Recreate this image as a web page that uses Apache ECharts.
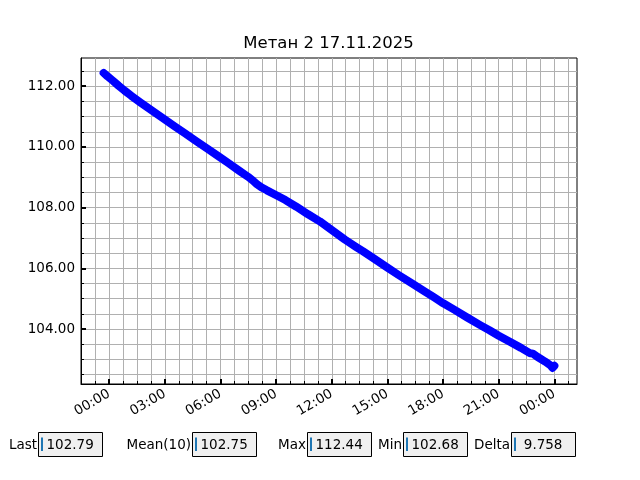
<!DOCTYPE html>
<html><head><meta charset="utf-8">
<script src="https://cdn.jsdelivr.net/npm/echarts@6/dist/echarts.min.js"></script>
<style>html,body{margin:0;padding:0;background:#fff}#c{width:640px;height:480px}</style>
</head><body><div id="c"></div>
<script>
const chartTitle = 'Метан 2 17.11.2025';
const hours = [-0.3, -0.1, 0.2, 0.5, 0.82, 1.2, 1.72, 2.3, 2.98, 3.5, 4.06, 4.7, 5.32, 5.9, 6.4, 7.0, 7.48, 7.75, 7.95, 8.2, 8.5, 9.01, 9.5, 10.09, 10.7, 11.35, 12.07, 12.7, 13.3, 13.69, 14.3, 14.98, 15.6, 16.3, 17.0, 17.5, 18.01, 18.6, 19.3, 20.0, 20.5, 21.0, 21.6, 22.2, 22.7, 22.85, 22.95, 23.1, 23.5, 23.8, 23.9, 23.95, 24.0];
const values = [112.44, 112.33, 112.18, 112.02, 111.86, 111.68, 111.45, 111.20, 110.91, 110.69, 110.46, 110.19, 109.93, 109.69, 109.48, 109.22, 109.02, 108.89, 108.78, 108.67, 108.57, 108.41, 108.25, 108.03, 107.79, 107.55, 107.23, 106.95, 106.71, 106.56, 106.31, 106.03, 105.78, 105.51, 105.24, 105.05, 104.85, 104.64, 104.38, 104.13, 103.96, 103.78, 103.58, 103.38, 103.20, 103.19, 103.16, 103.08, 102.93, 102.80, 102.72, 102.68, 102.79];
const xTickHours = [0, 3, 6, 9, 12, 15, 18, 21, 24];
const yTickValues = [104, 106, 108, 110, 112];
const statNames = ['Last', 'Mean(10)', 'Max', 'Min', 'Delta'];
const statValues = ['102.79', '102.75', '112.44', '102.68', ' 9.758'];

const X_MIN = -1.52, X_MAX = 25.22, Y_MIN = 102.19, Y_MAX = 112.93;
const FONT = '"DejaVu Sans", sans-serif';
const xGrid = []; for (let h = -1.5; h <= X_MAX; h += 0.75) xGrid.push(+h.toFixed(2));
const yGrid = []; for (let v = 102.5; v <= Y_MAX; v += 0.5) yGrid.push(+v.toFixed(2));
const pad = n => (n < 10 ? '0' : '') + n;

const chart = echarts.init(document.getElementById('c'), null, {renderer: 'canvas'});
const boxLefts = [38.5, 192.5, 307.5, 403.5, 511.5];
const graphics = [{
  type: 'text', x: 328.5, y: 44,
  style: {text: chartTitle, font: '16.5px ' + FONT, fill: '#000', align: 'center', verticalAlign: 'middle'}
}];
statNames.forEach((n, i) => {
  const L = boxLefts[i];
  graphics.push({type: 'text', x: L - 1.5, y: 445, style: {text: n, font: '13.5px ' + FONT, fill: '#000', align: 'right', verticalAlign: 'middle'}});
  graphics.push({type: 'rect', shape: {x: L, y: 432.5, width: 64, height: 24}, style: {fill: '#f0f0f0', stroke: '#000', lineWidth: 1}});
  graphics.push({type: 'line', shape: {x1: L + 3.5, y1: 437.5, x2: L + 3.5, y2: 451}, style: {stroke: '#1f77b4', lineWidth: 2}});
  graphics.push({type: 'text', x: L + 8, y: 445, style: {text: statValues[i], font: '13.5px ' + FONT, fill: '#000', align: 'left', verticalAlign: 'middle'}});
});

chart.setOption({
  animation: false,
  backgroundColor: '#fff',
  grid: {left: 81, top: 58, right: 63, bottom: 96, show: true, borderColor: '#000', borderWidth: 1, containLabel: false},
  xAxis: [{
    type: 'value', min: X_MIN, max: X_MAX, position: 'bottom',
    axisLine: {show: true, onZero: false, lineStyle: {color: '#000', width: 1}},
    axisTick: {show: true, inside: true, length: 3, customValues: xGrid, lineStyle: {color: '#000', width: 1}},
    axisLabel: {show: true, customValues: xTickHours, rotate: 30, margin: 9, fontFamily: 'DejaVu Sans', fontSize: 13.5, color: '#000',
      formatter: v => pad(Math.round(v) % 24) + ':00'},
    splitLine: {show: true, lineStyle: {color: '#b0b0b0', width: 1}}
  }, {
    type: 'value', min: X_MIN, max: X_MAX, position: 'bottom',
    axisLine: {show: false, onZero: false}, axisLabel: {show: false}, splitLine: {show: false},
    axisTick: {show: true, inside: true, length: 5, customValues: xTickHours, lineStyle: {color: '#000', width: 2}}
  }],
  yAxis: [{
    type: 'value', min: Y_MIN, max: Y_MAX, position: 'left',
    axisLine: {show: true, onZero: false, lineStyle: {color: '#000', width: 1}},
    axisTick: {show: true, inside: true, length: 3, customValues: yGrid, lineStyle: {color: '#000', width: 1}},
    axisLabel: {show: true, customValues: yTickValues, margin: 6, fontFamily: 'DejaVu Sans', fontSize: 13.5, color: '#000',
      formatter: v => v.toFixed(2)},
    splitLine: {show: true, lineStyle: {color: '#b0b0b0', width: 1}}
  }, {
    type: 'value', min: Y_MIN, max: Y_MAX, position: 'left',
    axisLine: {show: false, onZero: false}, axisLabel: {show: false}, splitLine: {show: false},
    axisTick: {show: true, inside: true, length: 5, customValues: yTickValues, lineStyle: {color: '#000', width: 2}}
  }],
  series: [{
    type: 'line', xAxisIndex: 0, yAxisIndex: 0,
    data: hours.map((h, i) => [h, values[i]]),
    showSymbol: false, smooth: false,
    lineStyle: {color: '#0000ff', width: 8, cap: 'round', join: 'round'},
    z: 5
  }],
  graphic: graphics
});
</script></body></html>
